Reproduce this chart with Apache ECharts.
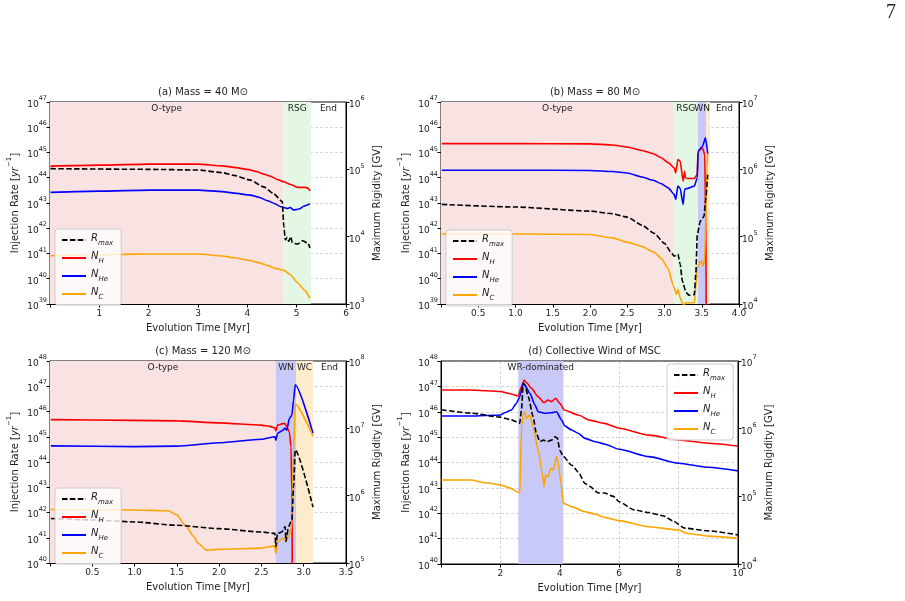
<!DOCTYPE html>
<html>
<head>
<meta charset="utf-8">
<script src="https://cdn.jsdelivr.net/npm/echarts@6/dist/echarts.min.js"></script>
<style>
  html, body { margin: 0; padding: 0; background: #fff; }
  #chart { width: 905px; height: 601px; }
</style>
</head>
<body>
<div id="chart"></div>
<script>
// values are log10 of the quantity: [time in Myr, log10(value)]
// N_* on the left axis (injection rate, yr^-1), Rmax on the right axis (GV)

// (a) 40 Msun
const aNH = [[0.01,44.46],[1,44.5],[2,44.54],[3,44.54],[3.5,44.47],[3.73,44.41],[4.0,44.33],[4.2,44.24],[4.34,44.14],[4.47,44.06],[4.61,43.93],[4.74,43.84],[4.88,43.73],[5.02,43.62],[5.16,43.62],[5.22,43.60],[5.27,43.48]];
const aNHe = [[0.01,43.42],[1,43.47],[2,43.51],[3,43.51],[3.5,43.45],[3.73,43.39],[4.06,43.31],[4.25,43.22],[4.41,43.09],[4.55,42.98],[4.68,42.85],[4.74,42.82],[4.81,42.78],[4.87,42.82],[4.94,42.72],[5.05,42.76],[5.15,42.88],[5.27,42.97]];
const aNC = [[0.01,40.91],[1,40.95],[2,40.98],[3,40.98],[3.5,40.9],[3.73,40.83],[4.06,40.72],[4.25,40.63],[4.41,40.52],[4.6,40.4],[4.74,40.33],[4.88,40.15],[5.02,39.84],[5.16,39.55],[5.27,39.22]];
const aRmax = [[0.01,5.01],[2,5.0],[3,4.99],[3.5,4.95],[3.73,4.91],[4.06,4.84],[4.33,4.74],[4.53,4.64],[4.71,4.52],[4.74,4.15],[4.77,3.95],[4.81,3.99],[4.84,3.93],[4.88,4.0],[4.91,3.91],[5.02,3.89],[5.12,3.94],[5.23,3.90],[5.27,3.83]];

// (b) 80 Msun
const bNH = [[0.01,45.35],[1,45.35],[2,45.34],[2.3,45.3],[2.5,45.22],[2.7,45.08],[2.85,44.95],[2.95,44.8],[3.05,44.6],[3.13,44.39],[3.15,44.19],[3.18,44.72],[3.21,44.66],[3.25,43.87],[3.27,44.26],[3.28,44.0],[3.31,43.97],[3.40,43.97],[3.44,44.13],[3.45,45.05],[3.51,45.18],[3.54,44.92],[3.555,42.0],[3.56,38.5]];
const bNHe = [[0.01,44.30],[1,44.30],[2,44.29],[2.3,44.25],[2.5,44.19],[2.7,44.03],[2.85,43.9],[2.95,43.77],[3.05,43.6],[3.13,43.34],[3.15,43.14],[3.18,43.67],[3.21,43.58],[3.25,42.94],[3.27,43.54],[3.31,43.58],[3.40,43.67],[3.44,43.99],[3.45,45.05],[3.51,45.25],[3.55,45.58],[3.58,44.95]];
const bNC = [[0.01,41.77],[1,41.77],[2,41.75],[2.3,41.62],[2.5,41.45],[2.68,41.3],[2.86,41.05],[2.96,40.8],[3.04,40.44],[3.13,39.65],[3.16,39.38],[3.18,39.58],[3.21,39.25],[3.24,39.05],[3.26,38.9],[3.28,39.05],[3.4,39.05],[3.42,39.65],[3.44,40.44],[3.49,40.70],[3.52,40.5],[3.54,40.83],[3.57,44.39],[3.58,44.95]];
const bRmax = [[0.01,5.48],[1,5.44],[2,5.38],[2.3,5.34],[2.5,5.29],[2.7,5.17],[2.86,5.05],[3.0,4.9],[3.1,4.75],[3.13,4.71],[3.18,4.74],[3.21,4.59],[3.24,4.34],[3.29,4.17],[3.33,4.13],[3.40,4.14],[3.42,4.44],[3.44,5.03],[3.48,5.23],[3.53,5.30],[3.55,5.53],[3.58,5.92]];

// (c) 120 Msun
const cNH = [[0.01,45.68],[1,45.65],[1.5,45.63],[2,45.55],[2.5,45.46],[2.6,45.41],[2.66,45.35],[2.67,45.23],[2.69,45.46],[2.75,45.52],[2.78,45.52],[2.80,45.39],[2.83,45.19],[2.85,44.6],[2.86,42.77],[2.865,39.5]];
const cNHe = [[0.01,44.64],[1,44.61],[1.5,44.63],[2,44.76],[2.5,44.90],[2.66,45.0],[2.67,44.86],[2.69,45.13],[2.74,45.23],[2.78,45.33],[2.80,45.26],[2.83,45.72],[2.86,45.85],[2.88,46.45],[2.90,47.06],[3.11,45.14]];
const cNC = [[0.01,42.12],[1,42.10],[1.4,42.07],[1.5,41.90],[1.6,41.5],[1.7,41.04],[1.75,40.78],[1.85,40.51],[2,40.54],[2.5,40.59],[2.66,40.68],[2.67,40.38],[2.69,40.84],[2.75,40.98],[2.78,40.91],[2.80,41.11],[2.82,41.04],[2.85,41.31],[2.86,41.70],[2.88,44.47],[2.90,46.30],[3.11,45.02]];
const cRmax = [[0.01,5.66],[0.5,5.64],[1,5.61],[1.5,5.56],[2,5.51],[2.5,5.46],[2.66,5.44],[2.67,5.24],[2.69,5.44],[2.74,5.46],[2.78,5.54],[2.79,5.32],[2.82,5.54],[2.86,5.64],[2.88,6.13],[2.90,6.68],[3.11,5.83]];

// (d) collective wind of the cluster
const dNH = [[0.01,46.86],[1,46.86],[2,46.80],[2.3,46.72],[2.6,46.62],[2.71,46.99],[2.80,47.25],[2.88,47.14],[3.05,46.92],[3.27,46.59],[3.47,46.36],[3.61,46.46],[3.72,46.40],[3.86,46.53],[4.0,46.33],[4.15,46.07],[4.62,45.87],[5.0,45.67],[5.5,45.54],[6.0,45.35],[7.0,45.08],[8.0,44.89],[9.0,44.76],[10,44.65]];
const dNHe = [[0.01,45.83],[1,45.83],[2,45.87],[2.15,45.96],[2.37,46.07],[2.54,46.33],[2.65,46.59],[2.77,47.12],[2.82,47.05],[2.99,46.73],[3.16,46.27],[3.27,46.0],[3.50,45.94],[3.72,45.96],[3.89,46.0],[4.06,45.67],[4.17,45.44],[4.40,45.28],[4.62,45.15],[4.85,44.95],[5.19,44.82],[5.5,44.73],[6.0,44.52],[7,44.23],[8,43.97],[9,43.81],[10,43.67]];
const dNC = [[0.01,43.31],[1,43.31],[1.5,43.2],[2,43.12],[2.3,43.0],[2.62,42.82],[2.66,42.85],[2.71,45.41],[2.77,45.91],[2.82,46.0],[2.88,45.74],[2.99,45.87],[3.10,45.41],[3.27,44.49],[3.41,43.57],[3.47,43.05],[3.52,43.51],[3.61,43.44],[3.70,43.77],[3.78,43.70],[3.89,44.23],[3.95,43.97],[4.04,43.18],[4.12,42.39],[4.40,42.26],[4.85,42.06],[5.19,41.97],[5.5,41.84],[6,41.71],[7,41.47],[8,41.34],[8.3,41.2],[9,41.1],[10,41.01]];
const dRmax = [[0.01,6.28],[1,6.23],[2,6.17],[2.37,6.13],[2.65,6.08],[2.71,6.28],[2.77,6.67],[2.82,6.65],[2.94,6.47],[3.10,6.18],[3.21,5.93],[3.33,5.81],[3.44,5.83],[3.58,5.81],[3.72,5.83],[3.83,5.88],[3.92,5.86],[4.0,5.68],[4.12,5.59],[4.40,5.46],[4.62,5.36],[4.85,5.19],[5.0,5.15],[5.3,5.05],[5.5,5.05],[5.8,5.0],[6.0,4.92],[6.5,4.80],[7.0,4.76],[7.5,4.71],[7.8,4.64],[8.2,4.53],[9,4.49],[10,4.43]];

// evolutionary phases: [label, start, end]
const aPhases = [['O-type',0,4.73],['RSG',4.73,5.29],['End',5.29,6]];
const bPhases = [['O-type',0,3.12],['RSG',3.12,3.45],['WN',3.45,3.56],['',3.56,3.61],['End',3.61,4]];
const cPhases = [['O-type',0,2.67],['WN',2.67,2.91],['WC',2.91,3.11],['End',3.11,3.5]];
const dPhases = [['WR-dominated',2.6,4.12]];

const titles = ['(a) Mass = 40 M\u2299', '(b) Mass = 80 M\u2299', '(c) Mass = 120 M\u2299', '(d) Collective Wind of MSC'];

const phaseColor = { 'O-type': '#f9e2e2', 'RSG': '#e4f6e4', 'WN': '#c9c9f8', 'WC': '#fdebcb', '': '#fdebcb', 'End': 'rgba(0,0,0,0)', 'WR-dominated': '#c9c9f8' };

const FONT = 'DejaVu Sans';

const panels = [
    { grid: { left: 50, top: 102, width: 296, height: 202 }, xMax: 6, xInt: 1, dec: 0, left: [39, 47], right: [3, 6],
      nh: aNH, nhe: aNHe, nc: aNC, rmax: aRmax, phases: aPhases, legend: { left: 55, top: 229 } },
    { grid: { left: 441, top: 102, width: 298, height: 202 }, xMax: 4, xInt: 0.5, dec: 1, left: [39, 47], right: [4, 7],
      nh: bNH, nhe: bNHe, nc: bNC, rmax: bRmax, phases: bPhases, legend: { left: 446, top: 230 } },
    { grid: { left: 50, top: 361, width: 296, height: 202 }, xMax: 3.5, xInt: 0.5, dec: 1, left: [40, 48], right: [5, 8],
      nh: cNH, nhe: cNHe, nc: cNC, rmax: cRmax, phases: cPhases, legend: { left: 55, top: 488 } },
    { grid: { left: 441, top: 361, width: 297, height: 203 }, xMax: 10, xInt: 2, dec: 0, left: [40, 48], right: [4, 7],
      nh: dNH, nhe: dNHe, nc: dNC, rmax: dRmax, phases: dPhases, legend: { left: 667, top: 364 } }
];

const toValues = (pts) => pts.map((p) => [p[0], Math.pow(10, p[1])]);

const powRich = {
    b: { fontSize: 9, fontFamily: FONT, color: '#222', lineHeight: 14, verticalAlign: 'bottom' },
    s: { fontSize: 6.5, fontFamily: FONT, color: '#222', lineHeight: 14, verticalAlign: 'top' }
};

const powLabel = (v) => '{b|10}{s|' + Math.round(Math.log10(v)) + '}';

const legendNames = ['Rmax', 'NH', 'NHe', 'NC'];
const legendText = {
    Rmax: '{i|R}{sub|max}',
    NH: '{i|N}{sub|H}',
    NHe: '{i|N}{sub|He}',
    NC: '{i|N}{sub|C}'
};

const gridLine = { show: true, lineStyle: { color: 'rgba(160,160,160,0.55)', type: [3, 2], width: 0.8 } };

const grids = [], xAxes = [], yAxes = [], series = [], legends = [], titleList = [];

panels.forEach((p, i) => {
    grids.push(Object.assign({ show: true, borderColor: '#000', borderWidth: 1, backgroundColor: 'transparent' }, p.grid));

    titleList.push({
        text: titles[i],
        left: p.grid.left + p.grid.width / 2,
        top: p.grid.top - 20,
        textAlign: 'center',
        textStyle: { fontFamily: FONT, fontSize: 10, fontWeight: 'normal', color: '#222' }
    });

    xAxes.push({
        type: 'value', gridIndex: i, min: 0, max: p.xMax, interval: p.xInt,
        name: 'Evolution Time [Myr]', nameLocation: 'middle', nameGap: 19,
        nameTextStyle: { fontFamily: FONT, fontSize: 10, color: '#222' },
        axisLine: { lineStyle: { color: '#000', width: 1 } },
        axisTick: { length: 3.5, lineStyle: { color: '#000' } },
        axisLabel: {
            fontFamily: FONT, fontSize: 9, color: '#222', margin: 5,
            formatter: (v) => (v === 0 ? '' : v.toFixed(p.dec))
        },
        splitLine: gridLine
    });

    yAxes.push({
        type: 'log', logBase: 10, gridIndex: i, position: 'left',
        min: Math.pow(10, p.left[0]), max: Math.pow(10, p.left[1]), splitNumber: p.left[1] - p.left[0],
        name: '{n|Injection Rate [}{it|yr}{sup|\u22121}{n|]}', nameLocation: 'middle', nameGap: 30, nameRotate: 90,
        nameTextStyle: {
            rich: {
                n: { fontFamily: FONT, fontSize: 10, color: '#222', lineHeight: 14, verticalAlign: 'bottom' },
                it: { fontFamily: FONT, fontSize: 10, fontStyle: 'italic', color: '#222', lineHeight: 14, verticalAlign: 'bottom' },
                sup: { fontFamily: FONT, fontSize: 7, color: '#222', lineHeight: 14, verticalAlign: 'top' }
            }
        },
        axisLine: { show: true, lineStyle: { color: '#000', width: 1 } },
        axisTick: { show: true, length: 3.5, lineStyle: { color: '#000' } },
        axisLabel: { margin: 3, formatter: powLabel, rich: powRich },
        splitLine: gridLine
    });

    yAxes.push({
        type: 'log', logBase: 10, gridIndex: i, position: 'right',
        min: Math.pow(10, p.right[0]), max: Math.pow(10, p.right[1]), splitNumber: p.right[1] - p.right[0],
        name: 'Maximum Rigidity [GV]', nameLocation: 'middle', nameGap: 26, nameRotate: 90,
        nameTextStyle: { fontFamily: FONT, fontSize: 10, color: '#222' },
        axisLine: { show: true, lineStyle: { color: '#000', width: 1 } },
        axisTick: { show: true, length: 3.5, lineStyle: { color: '#000' } },
        axisLabel: { margin: 3, formatter: powLabel, rich: powRich },
        splitLine: { show: false }
    });

    const xi = i, yl = 2 * i, yr = 2 * i + 1;

    // phase bands
    series.push({
        type: 'line', data: [], xAxisIndex: xi, yAxisIndex: yl, silent: true, z: 1,
        markArea: {
            silent: true,
            label: { position: 'insideTop', distance: 2, fontFamily: FONT, fontSize: 9, color: '#222' },
            data: p.phases.map((ph) => [
                { name: ph[0], xAxis: ph[1], itemStyle: { color: phaseColor[ph[0]] } },
                { xAxis: ph[2] }
            ])
        }
    });

    const line = (name, data, color, yIdx, dashed) => ({
        name: name, type: 'line', xAxisIndex: xi, yAxisIndex: yIdx, data: toValues(data),
        showSymbol: false, symbol: 'none', z: 3,
        smooth: 0.2, smoothMonotone: 'x',
        lineStyle: { color: color, width: 1.6, type: dashed ? [5.5, 2.4] : 'solid' },
        itemStyle: { color: color }
    });

    series.push(line('NH', p.nh, '#ff0000', yl));
    series.push(line('NHe', p.nhe, '#0000ff', yl));
    series.push(line('NC', p.nc, '#ffa500', yl));
    series.push(line('Rmax', p.rmax, '#000000', yr, true));

    legends.push({
        left: p.legend.left, top: p.legend.top, orient: 'vertical',
        data: legendNames, itemWidth: 24, itemHeight: 10, itemGap: 4,
        padding: [4, 8, 4, 6], backgroundColor: 'rgba(255,255,255,0.8)',
        borderColor: '#cccccc', borderWidth: 1, borderRadius: 3,
        selectedMode: false,
        itemStyle: { opacity: 0 },
        formatter: (name) => legendText[name],
        textStyle: {
            rich: {
                i: { fontFamily: FONT, fontSize: 10, fontStyle: 'italic', color: '#222', lineHeight: 14, verticalAlign: 'top' },
                sub: { fontFamily: FONT, fontSize: 7, fontStyle: 'italic', color: '#222', lineHeight: 14, verticalAlign: 'bottom' }
            }
        }
    });
});

const chart = echarts.init(document.getElementById('chart'), null, { renderer: 'canvas' });
chart.setOption({
    animation: false,
    backgroundColor: '#fff',
    title: titleList,
    grid: grids,
    xAxis: xAxes,
    yAxis: yAxes,
    legend: legends,
    series: series,
    graphic: [{
        type: 'text', left: 886, top: 3,
        style: { text: '7', font: '20px "Liberation Serif"', fill: '#222' }
    }]
});
</script>
</body>
</html>
